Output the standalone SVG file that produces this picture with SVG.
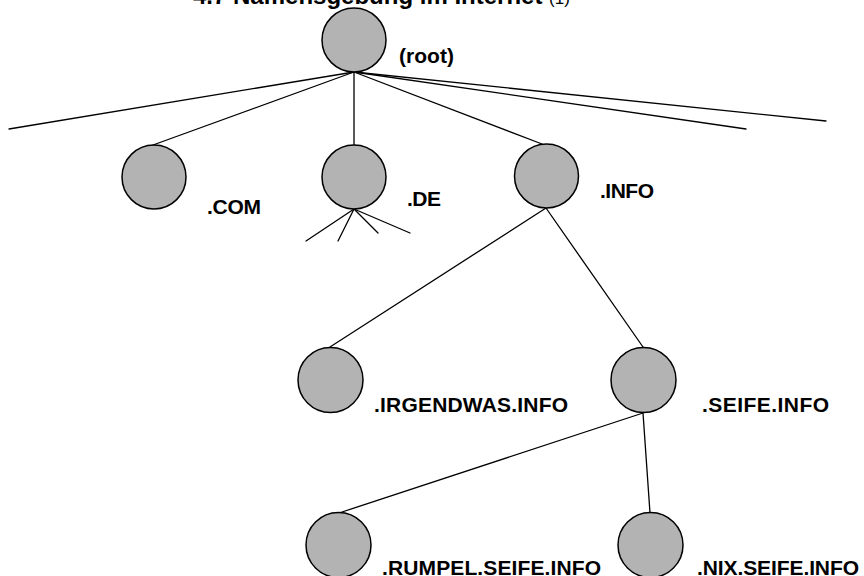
<svg xmlns="http://www.w3.org/2000/svg" width="864" height="576" viewBox="0 0 864 576">
  <style>
    .bg { fill: #ffffff; }
    .node { fill: #b3b3b3; stroke: #000000; stroke-width: 1.5; }
    .edge { stroke: #000000; stroke-width: 1.3; fill: none; stroke-linecap: round; }
    .label { font-family: "Liberation Sans", Arial, sans-serif; font-weight: bold; font-size: 21px; fill: #000000; }
    .title { font-family: "Liberation Sans", Arial, sans-serif; font-weight: bold; font-size: 24px; fill: #000000; }
  </style>
  <rect class="bg" x="0" y="0" width="864" height="576"/>

  <text class="title" x="193" y="4">4.7 Namensgebung im Internet <tspan font-weight="normal" font-size="17">(1)</tspan></text>

  <!-- connectors -->
  <g id="connectors">
    <line class="edge" x1="354" y1="72" x2="9" y2="129"/>
    <line class="edge" x1="354" y1="72" x2="153" y2="145"/>
    <line class="edge" x1="354" y1="72" x2="354" y2="145"/>
    <line class="edge" x1="354" y1="72" x2="542" y2="144"/>
    <line class="edge" x1="354" y1="72" x2="746" y2="129"/>
    <line class="edge" x1="354" y1="72" x2="826" y2="121"/>
    <line class="edge" x1="354" y1="209" x2="306" y2="241"/>
    <line class="edge" x1="354" y1="209" x2="338" y2="241"/>
    <line class="edge" x1="354" y1="209" x2="378" y2="233"/>
    <line class="edge" x1="354" y1="209" x2="410" y2="233"/>
    <line class="edge" x1="546" y1="208" x2="330" y2="347"/>
    <line class="edge" x1="546" y1="208" x2="643" y2="347"/>
    <line class="edge" x1="643" y1="413" x2="339" y2="513"/>
    <line class="edge" x1="643" y1="413" x2="650" y2="513"/>
  </g>

  <g id="root">
    <circle class="node" cx="354" cy="40" r="32"/>
    <text class="label" x="399" y="63" font-size="18" textLength="55">(root)</text>
  </g>
  <g id="com">
    <circle class="node" cx="154" cy="177" r="32"/>
    <text class="label" x="207" y="214" textLength="54">.COM</text>
  </g>
  <g id="de">
    <circle class="node" cx="354" cy="177" r="32"/>
    <text class="label" x="407" y="206" textLength="34">.DE</text>
  </g>
  <g id="info">
    <circle class="node" cx="546.5" cy="176" r="32"/>
    <text class="label" x="600" y="198" textLength="54">.INFO</text>
  </g>
  <g id="irgendwas">
    <circle class="node" cx="330.5" cy="380" r="32.5"/>
    <text class="label" x="374" y="412" textLength="194">.IRGENDWAS.INFO</text>
  </g>
  <g id="seife">
    <circle class="node" cx="643.5" cy="380" r="32.5"/>
    <text class="label" x="702" y="412" textLength="127">.SEIFE.INFO</text>
  </g>
  <g id="rumpel">
    <circle class="node" cx="338.5" cy="545" r="32.5"/>
    <text class="label" x="382" y="575" textLength="219">.RUMPEL.SEIFE.INFO</text>
  </g>
  <g id="nix">
    <circle class="node" cx="650.5" cy="545" r="32.5"/>
    <text class="label" x="697" y="575" textLength="162">.NIX.SEIFE.INFO</text>
  </g>
</svg>
